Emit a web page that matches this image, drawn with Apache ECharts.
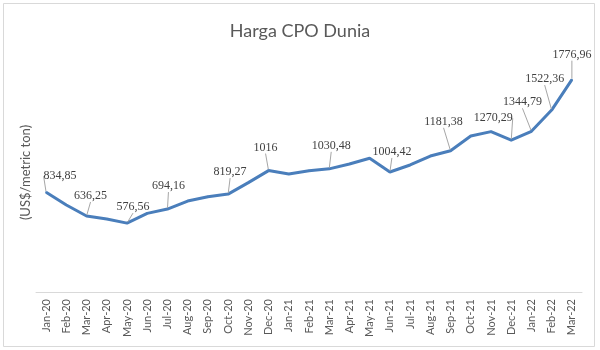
<!DOCTYPE html>
<html>
<head>
<meta charset="utf-8">
<script src="https://cdn.jsdelivr.net/npm/echarts@6/dist/echarts.min.js"></script>
<style>
  html, body { margin: 0; padding: 0; background: #fff; }
  #chart { width: 600px; height: 350px; }
</style>
</head>
<body>
<div id="chart"></div>
<script>
// Monthly world crude palm oil price (US$/metric ton)
const months = [
  'Jan-20','Feb-20','Mar-20','Apr-20','May-20','Jun-20','Jul-20','Aug-20','Sep-20','Oct-20','Nov-20','Dec-20',
  'Jan-21','Feb-21','Mar-21','Apr-21','May-21','Jun-21','Jul-21','Aug-21','Sep-21','Oct-21','Nov-21','Dec-21',
  'Jan-22','Feb-22','Mar-22'
];
const prices = [
  834.85, 728, 636.25, 611, 576.56, 658, 694.16, 761, 797, 819.27, 915, 1016,
  987, 1015, 1030.48, 1071, 1119, 1004.42, 1063, 1138, 1181.38, 1305, 1342, 1270.29,
  1344.79, 1522.36, 1776.96
];
// Months whose price is written on the chart
const labelledMonths = [
  'Jan-20','Mar-20','May-20','Jul-20','Oct-20','Dec-20','Mar-21','Jun-21',
  'Sep-21','Dec-21','Jan-22','Feb-22','Mar-22'
];

// Nudges that lift each value label off the line (label centre relative to its point)
const labelNudge = {
  'Jan-20': [14, -16], 'Mar-20': [4, -20], 'May-20': [6, -16], 'Jul-20': [1, -23],
  'Oct-20': [2, -22], 'Dec-20': [-3, -23], 'Mar-21': [2, -23], 'Jun-21': [2, -20],
  'Sep-21': [-7, -29], 'Dec-21': [-18, -22], 'Jan-22': [-9, -29], 'Feb-22': [-7, -31],
  'Mar-22': [0, -25]
};

const seriesData = prices.map((v, i) => ({
  value: v,
  label: { show: labelledMonths.includes(months[i]) }
}));

const chart = echarts.init(document.getElementById('chart'), null, { renderer: 'canvas' });
chart.setOption({
  animation: false,
  backgroundColor: '#ffffff',
  title: {
    text: 'Harga CPO Dunia',
    left: 'center',
    top: 17,
    textStyle: { fontFamily: 'Lato', fontSize: 18, fontWeight: 'normal', color: '#595959' }
  },
  graphic: [{
    type: 'rect',
    shape: { x: 3.5, y: 3.5, width: 591, height: 343 },
    style: { fill: 'none', stroke: '#d9d9d9', lineWidth: 1 },
    silent: true
  }],
  grid: { left: 36, right: 18, top: 53, bottom: 58 },
  xAxis: {
    type: 'category',
    data: months,
    boundaryGap: true,
    axisLine: { lineStyle: { color: '#d9d9d9', width: 1 } },
    axisTick: { show: false },
    axisLabel: {
      rotate: 90,
      interval: 0,
      margin: 7,
      fontFamily: 'Lato',
      fontSize: 11,
      color: '#595959'
    }
  },
  yAxis: {
    type: 'value',
    min: 0,
    max: 2000,
    name: '(US$/metric ton)',
    nameLocation: 'middle',
    nameRotate: 90,
    nameGap: 4,
    nameTextStyle: { fontFamily: 'Lato', fontSize: 13, color: '#595959' },
    axisLine: { show: false },
    axisTick: { show: false },
    axisLabel: { show: false },
    splitLine: { show: false }
  },
  series: [{
    type: 'line',
    data: seriesData,
    showSymbol: true,
    symbol: 'circle',
    symbolSize: 2,
    itemStyle: { color: '#4A7EBB' },
    lineStyle: { color: '#4A7EBB', width: 3 },
    label: {
      show: false,
      position: 'inside',
      fontFamily: 'Liberation Serif',
      fontSize: 12,
      color: '#404040',
      formatter: p => String(p.value).replace('.', ',')
    },
    labelLine: {
      show: true,
      lineStyle: { color: '#a6a6a6', width: 1 }
    },
    labelLayout: p => {
      const n = labelNudge[months[p.dataIndex]] || [0, -20];
      return { dx: n[0], dy: n[1] };
    }
  }]
});
</script>
</body>
</html>
